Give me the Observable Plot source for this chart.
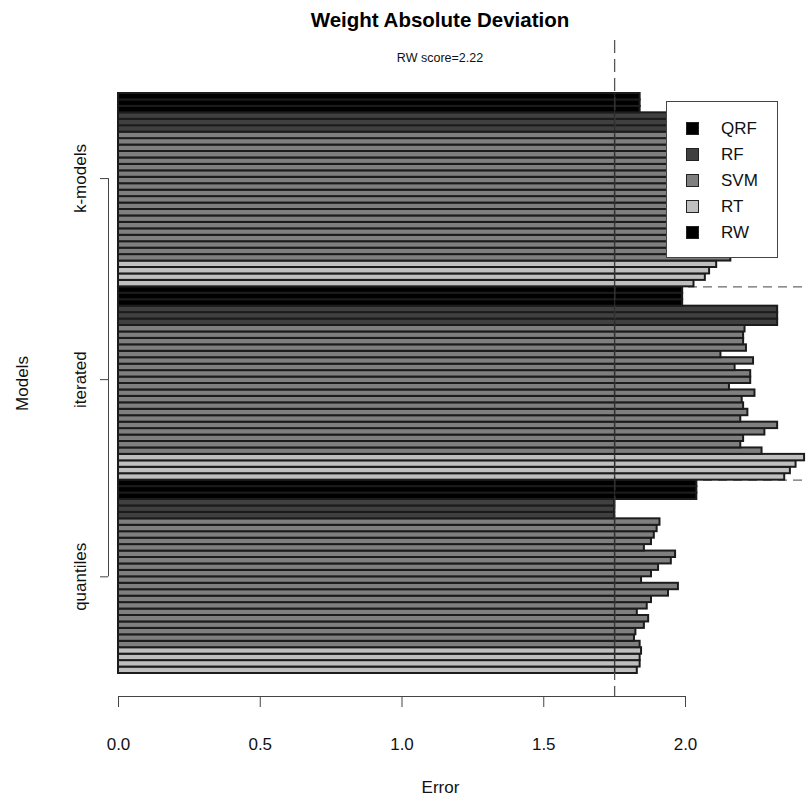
<!DOCTYPE html>
<html><head><meta charset="utf-8">
<script src="https://cdn.jsdelivr.net/npm/d3@7"></script>
<script src="https://cdn.jsdelivr.net/npm/@observablehq/plot@0.6"></script>
<style>
body{margin:0;background:#fff;font-family:"Liberation Sans",Arial,Helvetica,sans-serif;}
#wrap{position:relative;width:806px;height:800px;overflow:hidden;}
#title{position:absolute;left:240px;width:400px;top:8px;text-align:center;font-weight:bold;font-size:20.5px;line-height:24px;color:#000;}
#sub{position:absolute;left:340px;width:200px;top:50px;text-align:center;font-size:12.5px;line-height:16px;color:#111;}
#legend{position:absolute;left:666px;top:101px;width:110px;height:155px;border:1px solid #444;background:#fff;}
.item{position:absolute;left:0;height:20px;}
.sw{position:absolute;left:19px;top:3px;width:13px;height:13px;box-sizing:border-box;border:1px solid #222;}
.lb{position:absolute;left:54px;top:0;font-size:17px;line-height:20px;color:#111;white-space:nowrap;}
</style></head>
<body><div id="wrap"><div id="chart"></div><div id="title">Weight Absolute Deviation</div><div id="sub">RW score=2.22</div><div id="legend"></div></div>
<script>
// groups from bottom to top
const groups = ["quantiles", "iterated", "k-models"];
const groupTickPos = [15, 45.6, 76.8];
// values per group, listed top-to-bottom inside each group
const qrf = [
  [2.04, 2.04, 2.04],
  [1.99, 1.99, 1.99],
  [1.84, 1.84, 1.84]
];
const rf = [
  [1.75, 1.75, 1.75],
  [2.325, 2.325, 2.325],
  [2.22, 2.22, 2.22]
];
const svm = [
  [1.91, 1.90, 1.89, 1.88, 1.855, 1.965, 1.95, 1.905, 1.88, 1.845, 1.975, 1.94, 1.88, 1.865, 1.83, 1.87, 1.855, 1.825, 1.82, 1.84],
  [2.21, 2.205, 2.205, 2.215, 2.125, 2.24, 2.175, 2.23, 2.23, 2.155, 2.245, 2.20, 2.205, 2.22, 2.195, 2.325, 2.28, 2.205, 2.195, 2.27],
  [2.15, 2.14, 2.13, 2.14, 2.10, 2.18, 2.16, 2.15, 2.13, 2.11, 2.19, 2.16, 2.14, 2.13, 2.10, 2.14, 2.12, 2.10, 2.09, 2.16]
];
const rt = [
  [1.845, 1.84, 1.84, 1.83],
  [2.42, 2.39, 2.37, 2.35],
  [2.11, 2.085, 2.07, 2.03]
];
const legendLabels = ["QRF", "RF", "SVM", "RT", "RW"];
const legendColors = ["#000000", "#404040", "#7f7f7f", "#bfbfbf", "#000000"];
const xTicks = [0, 0.5, 1.0, 1.5, 2.0];
const refLine = 1.75;
const xMaxExtent = 2.45;

const colorOf = Object.fromEntries(legendLabels.map((l, i) => [l, legendColors[i]]));

const bars = [];
const boundaries = [];
let base = 0;
groups.forEach((g, gi) => {
  const topDown = [
    ...qrf[gi].map(v => ({model: "QRF", value: v})),
    ...rf[gi].map(v => ({model: "RF", value: v})),
    ...svm[gi].map(v => ({model: "SVM", value: v})),
    ...rt[gi].map(v => ({model: "RT", value: v}))
  ];
  const bottomUp = topDown.slice().reverse();
  bottomUp.forEach((b, j) => {
    bars.push({group: g, model: b.model, value: b.value, y1: base + j, y2: base + j + 1, color: colorOf[b.model]});
  });
  base += bottomUp.length;
  if (gi < groups.length - 1) boundaries.push(base);
});
const total = base;

const W = 806, H = 800;
const chart = Plot.plot({
  width: W, height: H,
  marginLeft: 118, marginRight: 121, marginTop: 40, marginBottom: 104,
  x: {domain: [0, 2], range: [118, 685]},
  y: {domain: [0, total], range: [673, 93]},
  style: {fontFamily: "'Liberation Sans', Arial, Helvetica, sans-serif", background: "white", color: "#111", overflow: "visible"},
  marks: [
    Plot.ruleY(boundaries, {x1: 0, x2: xMaxExtent, stroke: "#6a6a6a", strokeWidth: 1.3, strokeDasharray: "9,6"}),
    Plot.rect(bars, {x1: 0, x2: "value", y1: "y1", y2: "y2", fill: "color", stroke: "#1c1c1c", strokeWidth: 2}),
    Plot.ruleX([refLine], {stroke: "#555", strokeWidth: 1.3, strokeDasharray: "13,6"}),
    Plot.ruleX([refLine], {y1: 0, y2: total, stroke: "#2a2a2a", strokeWidth: 1.4, strokeOpacity: 0.85}),
    Plot.frame({anchor: "bottom", stroke: "#444"}),
    Plot.axisX({ticks: xTicks, tickFormat: d3.format(".1f"), tickSize: 11, tickPadding: 30, fontSize: 17, stroke: "#444", label: null}),
    Plot.ruleX([0], {y1: groupTickPos[0], y2: groupTickPos[groupTickPos.length - 1], dx: -10, stroke: "#444"}),
    Plot.axisY({ticks: groupTickPos, tickFormat: () => "", tickSize: 8, dx: -10, stroke: "#444", label: null}),
    Plot.text(groups, {y: (d, i) => groupTickPos[i], text: d => d, frameAnchor: "left", textAnchor: "middle", dx: -38, rotate: -90, fontSize: 17, fill: "#111"}),
    Plot.text(["Error"], {frameAnchor: "bottom", textAnchor: "middle", dx: 38.5, dy: 96, fontSize: 17, fill: "#111"}),
    Plot.text(["Models"], {frameAnchor: "left", textAnchor: "middle", dx: -96, dy: 15, rotate: -90, fontSize: 17, fill: "#111"})
  ]
});
document.getElementById("chart").appendChild(chart);

const legend = document.getElementById("legend");
legendLabels.forEach((l, i) => {
  const item = document.createElement("div");
  item.className = "item";
  item.style.top = (17 + i * 26) + "px";
  const sw = document.createElement("div");
  sw.className = "sw";
  sw.style.background = legendColors[i];
  const lb = document.createElement("div");
  lb.className = "lb";
  lb.textContent = l;
  item.appendChild(sw); item.appendChild(lb);
  legend.appendChild(item);
});
</script></body></html>
